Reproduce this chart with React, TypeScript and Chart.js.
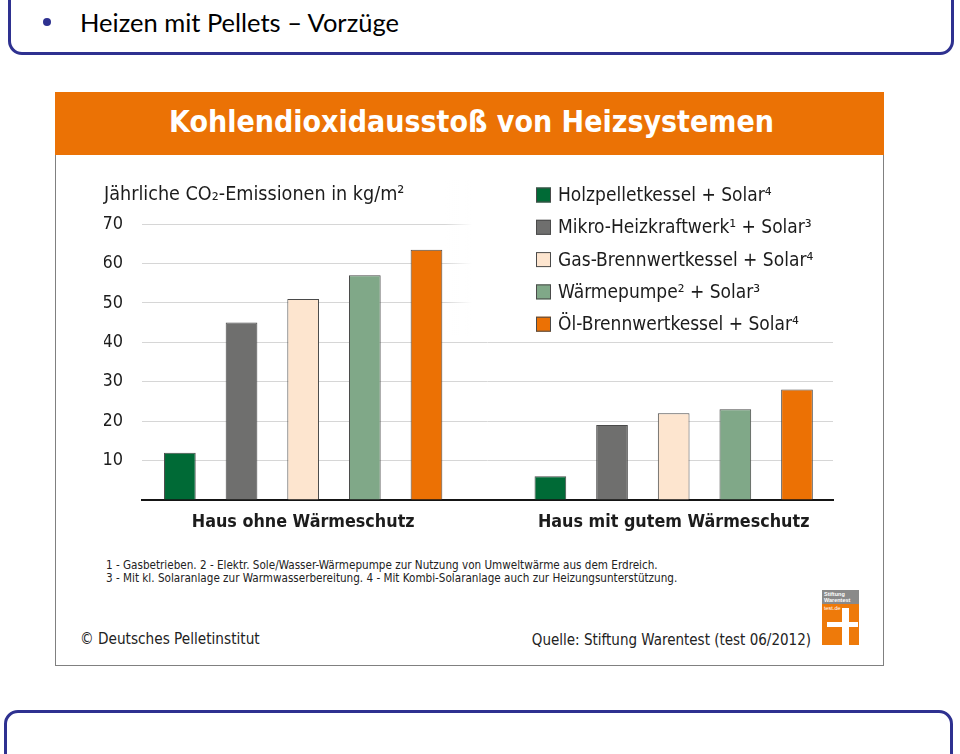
import React, { useEffect, useRef } from 'react';
import { Chart, registerables } from 'chart.js';

Chart.register(...registerables);

// ---- data ----
const groups = ['Haus ohne Wärmeschutz', 'Haus mit gutem Wärmeschutz'];
const groupPositions = [0, 1];
const seriesNames = [
  'Holzpelletkessel + Solar⁴',
  'Mikro-Heizkraftwerk¹ + Solar³',
  'Gas-Brennwertkessel + Solar⁴',
  'Wärmepumpe² + Solar³',
  'Öl-Brennwertkessel + Solar⁴',
];
const holzpellet = [12, 6];
const mikroHeizkraftwerk = [45, 19];
const gasBrennwert = [51, 22];
const waermepumpe = [57, 23];
const oelBrennwert = [63.5, 28];
const seriesColors = ['#006a36', '#6f6f6e', '#fde5cf', '#80a888', '#ec7104'];
const yMax = 70;
const yStep = 10;
const yCaption = 'Jährliche CO₂-Emissionen in kg/m²';

const COND = "'DejaVu Sans Condensed', 'DejaVu Sans', sans-serif";
const INK = '#1c1c1c';

const sideLegend = {
  id: 'sideLegend',
  beforeDatasetsDraw(chart: any) {
    const { ctx, chartArea } = chart;
    ctx.save();
    const fadeStart = 345;
    const solid = 372;
    const g = ctx.createLinearGradient(fadeStart, 0, solid, 0);
    g.addColorStop(0, 'rgba(255,255,255,0)');
    g.addColorStop(1, 'rgba(255,255,255,1)');
    ctx.fillStyle = g;
    ctx.fillRect(fadeStart, 0, solid - fadeStart, 156);
    ctx.fillStyle = '#ffffff';
    ctx.fillRect(solid, 0, chartArea.right + 2 - solid, 156);
    chart.data.datasets.forEach((ds: any, i: number) => {
      const cy = 15 + i * 32.3;
      ctx.fillStyle = ds.backgroundColor;
      ctx.fillRect(436, cy - 7.5, 15, 15);
      ctx.strokeStyle = '#4a4a4a';
      ctx.lineWidth = 1;
      ctx.strokeRect(436.5, cy - 7, 14, 14);
      ctx.fillStyle = INK;
      ctx.font = `19px ${COND}`;
      ctx.textBaseline = 'middle';
      ctx.textAlign = 'left';
      ctx.fillText(ds.label, 458, cy + 1);
    });
    ctx.restore();
  },
};

function ChartBox() {
  const ref = useRef<HTMLCanvasElement>(null);
  useEffect(() => {
    const series = [holzpellet, mikroHeizkraftwerk, gasBrennwert, waermepumpe, oelBrennwert];
    const chart = new Chart(ref.current as HTMLCanvasElement, {
      type: 'bar',
      data: {
        datasets: series.map((vals, i) => ({
          label: seriesNames[i],
          data: vals.map((v, j) => ({ x: groupPositions[j], y: v })),
          backgroundColor: seriesColors[i],
          borderColor: '#4a4a4a',
          borderWidth: 1,
          categoryPercentage: 0.832,
          barPercentage: 0.514,
        })),
      },
      options: {
        responsive: false,
        animation: false,
        devicePixelRatio: 1,
        layout: { padding: { left: 4, right: 27, top: 0, bottom: 0 } },
        plugins: {
          legend: { display: false },
          tooltip: { enabled: false },
          title: {
            display: true,
            text: yCaption,
            align: 'start',
            color: INK,
            font: { family: COND, size: 19.6, weight: 'normal', lineHeight: 1.2 },
            padding: { top: 3.2, bottom: 17.3 },
          },
        },
        scales: {
          x: {
            type: 'linear',
            offset: false,
            min: -0.435,
            max: 1.43,
            grid: { display: false, drawTicks: false, offset: false },
            border: { display: true, color: '#151515', width: 2 },
            afterBuildTicks: (scale: any) => {
              scale.ticks = groupPositions.map((v) => ({ value: v }));
            },
            afterFit: (scale: any) => {
              scale.height = 40;
            },
            ticks: {
              maxRotation: 0,
              autoSkip: false,
              padding: 12,
              color: INK,
              font: { family: COND, size: 17.8, weight: 'bold' },
              callback: (v: any) => groups[groupPositions.indexOf(Number(v))] ?? '',
            },
          },
          y: {
            min: 0,
            max: yMax,
            grid: {
              drawTicks: false,
              color: (c: any) => (c.tick && c.tick.value === 0 ? 'rgba(0,0,0,0)' : '#d6d6d6'),
              lineWidth: 1,
            },
            border: { display: false },
            afterFit: (scale: any) => {
              scale.width = 38;
            },
            ticks: {
              stepSize: yStep,
              padding: 19,
              color: INK,
              font: { family: COND, size: 18 },
              callback: (v: any) => (Number(v) === 0 ? '' : String(v)),
            },
          },
        },
      },
      plugins: [sideLegend],
    } as any);
    return () => chart.destroy();
  }, []);
  return (
    <canvas
      ref={ref}
      width={760}
      height={360}
      style={{ position: 'absolute', left: 100, top: 180, width: 760, height: 360 }}
    />
  );
}

export default function App() {
  const navy = '#2e3190';
  return (
    <div
      style={{
        position: 'fixed',
        left: 0,
        top: 0,
        width: 960,
        height: 754,
        overflow: 'hidden',
        background: '#ffffff',
        fontFamily: COND,
      }}
    >
      {/* top slide frame */}
      <div
        style={{
          position: 'absolute',
          left: 8,
          top: -40,
          width: 946,
          height: 95,
          border: `3px solid ${navy}`,
          borderRadius: 14,
          boxSizing: 'border-box',
        }}
      />
      <div
        style={{
          position: 'absolute',
          left: 43,
          top: 18,
          width: 8,
          height: 8,
          borderRadius: 4,
          background: navy,
        }}
      />
      <div
        style={{
          position: 'absolute',
          left: 80,
          top: 5,
          fontFamily: "Lato, 'Open Sans', sans-serif",
          fontSize: 25.5,
          lineHeight: '34px',
          color: '#000',
          whiteSpace: 'nowrap',
        }}
      >
        Heizen mit Pellets – Vorzüge
      </div>

      {/* picture frame */}
      <div
        style={{
          position: 'absolute',
          left: 55,
          top: 92,
          width: 829,
          height: 574,
          border: '1px solid #808080',
          boxSizing: 'border-box',
        }}
      />
      <div
        style={{
          position: 'absolute',
          left: 55,
          top: 92,
          width: 829,
          height: 63,
          background: '#eb7205',
        }}
      />
      <div
        style={{
          position: 'absolute',
          left: 55,
          top: 90,
          width: 829,
          height: 63,
          lineHeight: '63px',
          textAlign: 'center',
          color: '#ffffff',
          fontWeight: 'bold',
          fontSize: 30,
          whiteSpace: 'nowrap',
        }}
      >
        <span style={{ position: 'relative', left: 2 }}>Kohlendioxidausstoß von Heizsystemen</span>
      </div>

      <ChartBox />

      {/* footnotes */}
      <div
        style={{
          position: 'absolute',
          left: 106,
          top: 559,
          fontSize: 11.6,
          lineHeight: '13px',
          color: '#222',
          whiteSpace: 'nowrap',
        }}
      >
        <div>1 - Gasbetrieben. 2 - Elektr. Sole/Wasser-Wärmepumpe zur Nutzung von Umweltwärme aus dem Erdreich.</div>
        <div>3 - Mit kl. Solaranlage zur Warmwasserbereitung. 4 - Mit Kombi-Solaranlage auch zur Heizungsunterstützung.</div>
      </div>

      <div
        style={{
          position: 'absolute',
          left: 80,
          top: 629,
          fontSize: 15.2,
          lineHeight: '20px',
          color: '#222',
          whiteSpace: 'nowrap',
        }}
      >
        © Deutsches Pelletinstitut
      </div>
      <div
        style={{
          position: 'absolute',
          right: 960 - 811,
          top: 630,
          fontSize: 15,
          lineHeight: '20px',
          color: '#222',
          whiteSpace: 'nowrap',
        }}
      >
        Quelle: Stiftung Warentest (test 06/2012)
      </div>

      {/* logo */}
      <div style={{ position: 'absolute', left: 822, top: 590, width: 37, height: 14, background: '#8a8a8a' }}>
        <div
          style={{
            fontFamily: "'Liberation Sans', Arial, sans-serif",
            fontSize: 5.5,
            lineHeight: '6px',
            color: '#fff',
            fontWeight: 'bold',
            padding: '1px 0 0 2px',
          }}
        >
          Stiftung
          <br />
          Warentest
        </div>
      </div>
      <div style={{ position: 'absolute', left: 822, top: 604, width: 37, height: 41, background: '#ee7a0a' }}>
        <div
          style={{
            fontFamily: "'Liberation Sans', Arial, sans-serif",
            fontSize: 5.5,
            lineHeight: '7px',
            color: '#fff',
            padding: '1px 0 0 2px',
          }}
        >
          test.de
        </div>
        <div style={{ position: 'absolute', left: 20, top: 4, width: 7, height: 37, background: '#fff' }} />
        <div style={{ position: 'absolute', left: 5, top: 18, width: 31, height: 5, background: '#fff' }} />
      </div>

      {/* bottom slide frame */}
      <div
        style={{
          position: 'absolute',
          left: 4,
          top: 710,
          width: 949,
          height: 100,
          border: `3px solid ${navy}`,
          borderRadius: 14,
          boxSizing: 'border-box',
        }}
      />
    </div>
  );
}
